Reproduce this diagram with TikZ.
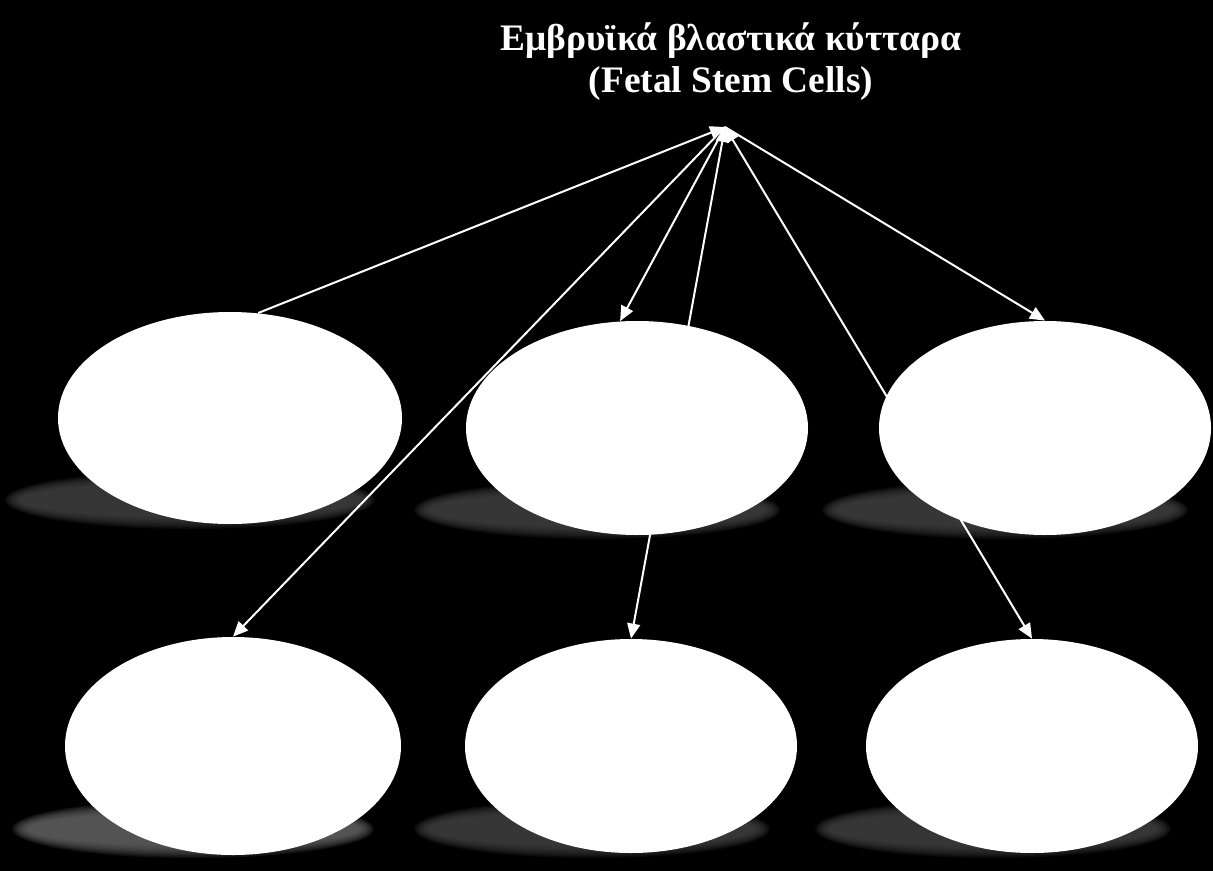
\documentclass[tikz,border=0pt]{standalone}
\usepackage{fontspec}
\setmainfont{Liberation Serif}
\usetikzlibrary{shapes.geometric,arrows.meta}
\pgfdeclarelayer{bg}
\pgfsetlayers{bg,main}
\newcommand{\cellshadow}[4]{% x, y, x radius, colour
  \foreach \k in {0,...,9}
    \fill[#4, fill opacity=0.15] (#1,#2) ellipse ({#3+8-1.7*\k} and {29-1.4*\k});
}
\begin{document}
\begin{tikzpicture}[x=0.5pt, y=-0.5pt,
    cell/.style={ellipse, fill=white, inner sep=0pt},
    link/.style={draw=white, line width=1pt, -{Triangle[length=7.5pt,width=6.5pt]}}]
    \useasboundingbox (0,0) rectangle (1213,871);
    \node[text=white, align=center, font=\bfseries\fontsize{18.7}{21}\selectfont] (title) at (731,62) {Εμβρυϊκά βλαστικά κύτταρα\\(Fetal Stem Cells)};
    \coordinate (hub) at (725,127);
    \node[cell, minimum width=172pt, minimum height=106pt] (tl) at (230,418) {};
    \node[cell, minimum width=171pt, minimum height=107pt] (tm) at (637,428) {};
    \node[cell, minimum width=166pt, minimum height=107pt] (tr) at (1045,428) {};
    \node[cell, minimum width=168pt, minimum height=109pt] (bl) at (233,746) {};
    \node[cell, minimum width=166pt, minimum height=107pt] (bm) at (631,746) {};
    \node[cell, minimum width=166pt, minimum height=107pt] (br) at (1032,746) {};
    \begin{pgfonlayer}{bg}
        \fill[black] (0,0) rectangle (1213,871);
        \cellshadow{190}{500}{177}{white!28!black}
        \cellshadow{597}{510}{175}{white!28!black}
        \cellshadow{1005}{510}{175}{white!28!black}
        \cellshadow{193}{829}{173}{white!42!black}
        \cellshadow{592}{829}{170}{white!28!black}
        \cellshadow{993}{829}{170}{white!28!black}
        \draw[link] (tl.75) -- (hub);
        \draw[link] (hub) -- (tm.99);
        \draw[link, {Triangle[length=7.5pt,width=6.5pt]}-{Triangle[length=7.5pt,width=6.5pt]}] (hub) -- (bm.north);
        \draw[link] (hub) -- (tr.north);
        \draw[link, {Triangle[length=7.5pt,width=6.5pt]}-{Triangle[length=7.5pt,width=6.5pt]}] (hub) -- (br.north);
        \draw[link] (hub) -- (bl.north);
    \end{pgfonlayer}
\end{tikzpicture}
\end{document}
